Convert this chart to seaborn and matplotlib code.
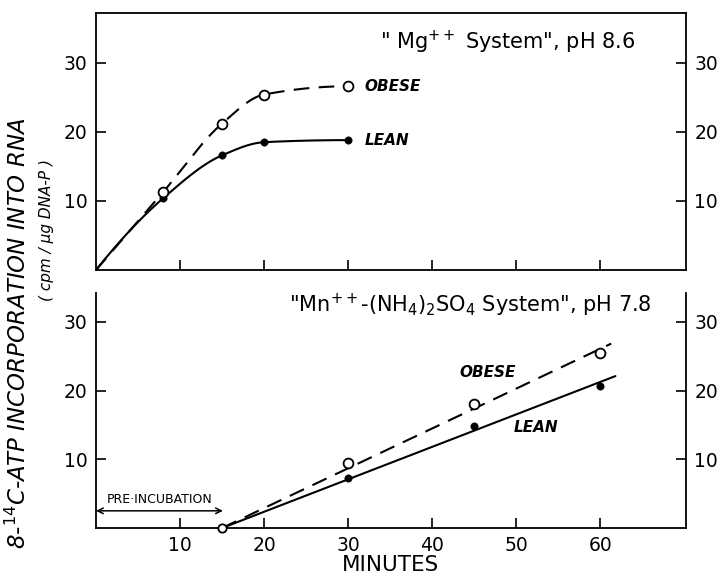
import numpy as np
import pandas as pd
import matplotlib
matplotlib.use("Agg")
import matplotlib.pyplot as plt
import seaborn as sns

# ---------------- data ----------------
# Top panel: "Mg++ System", pH 8.6
mg_minutes = [0, 8, 15, 20, 30]
mg_obese = [0, 11.3, 21.2, 25.4, 26.6]
mg_lean = [0, 10.4, 16.6, 18.5, 18.8]

# Bottom panel: "Mn++-(NH4)2SO4 System", pH 7.8
mn_minutes = [15, 30, 45, 60]
mn_obese = [0, 9.5, 18.0, 25.4]
mn_lean = [0, 7.3, 14.9, 20.7]

x_ticks = [10, 20, 30, 40, 50, 60]
y_ticks = [10, 20, 30]

sns.set_style("white")
plt.rcParams["font.family"] = ["DejaVu Sans"]
plt.rcParams["mathtext.fontset"] = "dejavusans"
for k in ("text.color", "axes.labelcolor", "xtick.color", "ytick.color",
          "axes.edgecolor"):
    plt.rcParams[k] = "black"


def pchip(x, y, xs):
    x = np.asarray(x, float)
    y = np.asarray(y, float)
    h = np.diff(x)
    d = np.diff(y) / h
    n = len(x)
    m = np.zeros(n)
    for k in range(1, n - 1):
        if d[k - 1] * d[k] <= 0:
            m[k] = 0
        else:
            w1 = 2 * h[k] + h[k - 1]
            w2 = h[k] + 2 * h[k - 1]
            m[k] = (w1 + w2) / (w1 / d[k - 1] + w2 / d[k])
    m0 = ((2 * h[0] + h[1]) * d[0] - h[0] * d[1]) / (h[0] + h[1])
    if np.sign(m0) != np.sign(d[0]):
        m0 = 0
    m[0] = m0
    mn = ((2 * h[-1] + h[-2]) * d[-1] - h[-1] * d[-2]) / (h[-1] + h[-2])
    if np.sign(mn) != np.sign(d[-1]):
        mn = 0
    m[-1] = mn
    out = np.empty_like(xs, dtype=float)
    for i, xv in enumerate(xs):
        k = min(np.searchsorted(x, xv, side="right") - 1, n - 2)
        k = max(k, 0)
        t = (xv - x[k]) / h[k]
        h00 = 2 * t**3 - 3 * t**2 + 1
        h10 = t**3 - 2 * t**2 + t
        h01 = -2 * t**3 + 3 * t**2
        h11 = t**3 - t**2
        out[i] = h00 * y[k] + h10 * h[k] * m[k] + h01 * y[k + 1] + h11 * h[k] * m[k + 1]
    return out


fig = plt.figure(figsize=(7.2, 5.78), dpi=100)
L, W = 96 / 720, 590 / 720
ax1 = fig.add_axes([L, 1 - 270 / 578, W, 257 / 578])
ax2 = fig.add_axes([L, 1 - 528 / 578, W, 235 / 578])

lw = 1.5
dash = (7.5, 4.5)
tick_fs = 13.5
title_fs = 15
lab_fs = 11

# ---- top panel ----
xs = np.linspace(0, 30, 200)
curve = pd.DataFrame({"x": xs, "obese": pchip(mg_minutes, mg_obese, xs),
                      "lean": pchip(mg_minutes, mg_lean, xs)})
sns.lineplot(data=curve, x="x", y="obese", ax=ax1, color="black", lw=lw,
             linestyle=(0, dash))
sns.lineplot(data=curve, x="x", y="lean", ax=ax1, color="black", lw=lw)
pts = pd.DataFrame({"x": mg_minutes[1:], "obese": mg_obese[1:], "lean": mg_lean[1:]})
sns.scatterplot(data=pts, x="x", y="lean", ax=ax1, color="black", s=28,
                edgecolor="black", zorder=3)
sns.scatterplot(data=pts, x="x", y="obese", ax=ax1, facecolor="white", s=50,
                edgecolor="black", linewidth=1.3, zorder=4)
ax1.set_xlim(0, 70.2)
ax1.set_ylim(0, 37.2)
ax1.text(32.0, mg_obese[-1], "OBESE", fontsize=lab_fs, style="italic",
         fontweight="bold", va="center", ha="left")
ax1.text(32.0, mg_lean[-1], "LEAN", fontsize=lab_fs, style="italic",
         fontweight="bold", va="center", ha="left")
ax1.text(49, 33.0, '" Mg$^{++}$ System", pH 8.6', fontsize=title_fs,
         ha="center", va="center")

# ---- bottom panel ----
dx = np.array(mn_minutes, float) - mn_minutes[0]
slope_o = np.sum(dx * np.array(mn_obese)) / np.sum(dx**2)
slope_l = np.sum(dx * np.array(mn_lean)) / np.sum(dx**2)
lo = pd.DataFrame({"x": [mn_minutes[0], 61.3]})
lo["y"] = slope_o * (lo["x"] - mn_minutes[0])
ll = pd.DataFrame({"x": [mn_minutes[0], 61.8]})
ll["y"] = slope_l * (ll["x"] - mn_minutes[0])
sns.lineplot(data=lo, x="x", y="y", ax=ax2, color="black", lw=lw,
             linestyle=(0, dash))
sns.lineplot(data=ll, x="x", y="y", ax=ax2, color="black", lw=lw)
pts2 = pd.DataFrame({"x": mn_minutes[1:], "obese": mn_obese[1:], "lean": mn_lean[1:]})
sns.scatterplot(data=pts2, x="x", y="lean", ax=ax2, color="black", s=28,
                edgecolor="black", zorder=3)
sns.scatterplot(data=pts2, x="x", y="obese", ax=ax2, facecolor="white", s=50,
                edgecolor="black", linewidth=1.3, zorder=4)
sns.scatterplot(x=[mn_minutes[0]], y=[mn_obese[0]], ax=ax2, facecolor="white",
                s=36, edgecolor="black", linewidth=1.3, zorder=4, clip_on=False)
ax2.set_xlim(0, 70.2)
ax2.set_ylim(0, 34.2)
ax2.text(46.6, 22.7, "OBESE", fontsize=lab_fs, style="italic",
         fontweight="bold", va="center", ha="center")
ax2.text(52.3, 14.6, "LEAN", fontsize=lab_fs, style="italic",
         fontweight="bold", va="center", ha="center")
ax2.text(44.5, 32.4, '"Mn$^{++}$-(NH$_4$)$_2$SO$_4$ System", pH 7.8',
         fontsize=title_fs, ha="center", va="center")
ax2.annotate("", xy=(15.1, 2.5), xytext=(0, 2.5),
             arrowprops=dict(arrowstyle="<->", color="black", lw=1.1,
                             shrinkA=0, shrinkB=0))
ax2.text(7.6, 4.1, "PRE·INCUBATION", fontsize=9, ha="center", va="center")

for ax in (ax1, ax2):
    ax.set_xlabel("")
    ax.set_ylabel("")
    ax.set_xticks(x_ticks)
    ax.set_yticks(y_ticks)
    ax.tick_params(axis="both", direction="in", length=7, width=1.2,
                   labelsize=tick_fs, color="black", labelcolor="black", pad=6)
    ax.tick_params(axis="y", left=True, right=True, labelleft=True,
                   labelright=True)
    ax.tick_params(axis="x", bottom=True)
    for s in ax.spines.values():
        s.set_color("black")
        s.set_linewidth(1.3)

ax1.tick_params(axis="x", labelbottom=False)
ax2.spines["top"].set_visible(False)
ax2.set_xlabel("MINUTES", fontsize=15.5, labelpad=0, color="black")

fig.text(0.025, 1 - 333 / 578, "8-$^{\\mathit{14}}$C-ATP INCORPORATION INTO RNA",
         rotation=90, fontsize=16.5, style="italic", ha="center", va="center")
fig.text(0.065, 1 - 230 / 578, "( cpm / μg DNA-P )", rotation=90,
         fontsize=11, style="italic", ha="center", va="center")

fig.savefig("out.png", dpi=100)
